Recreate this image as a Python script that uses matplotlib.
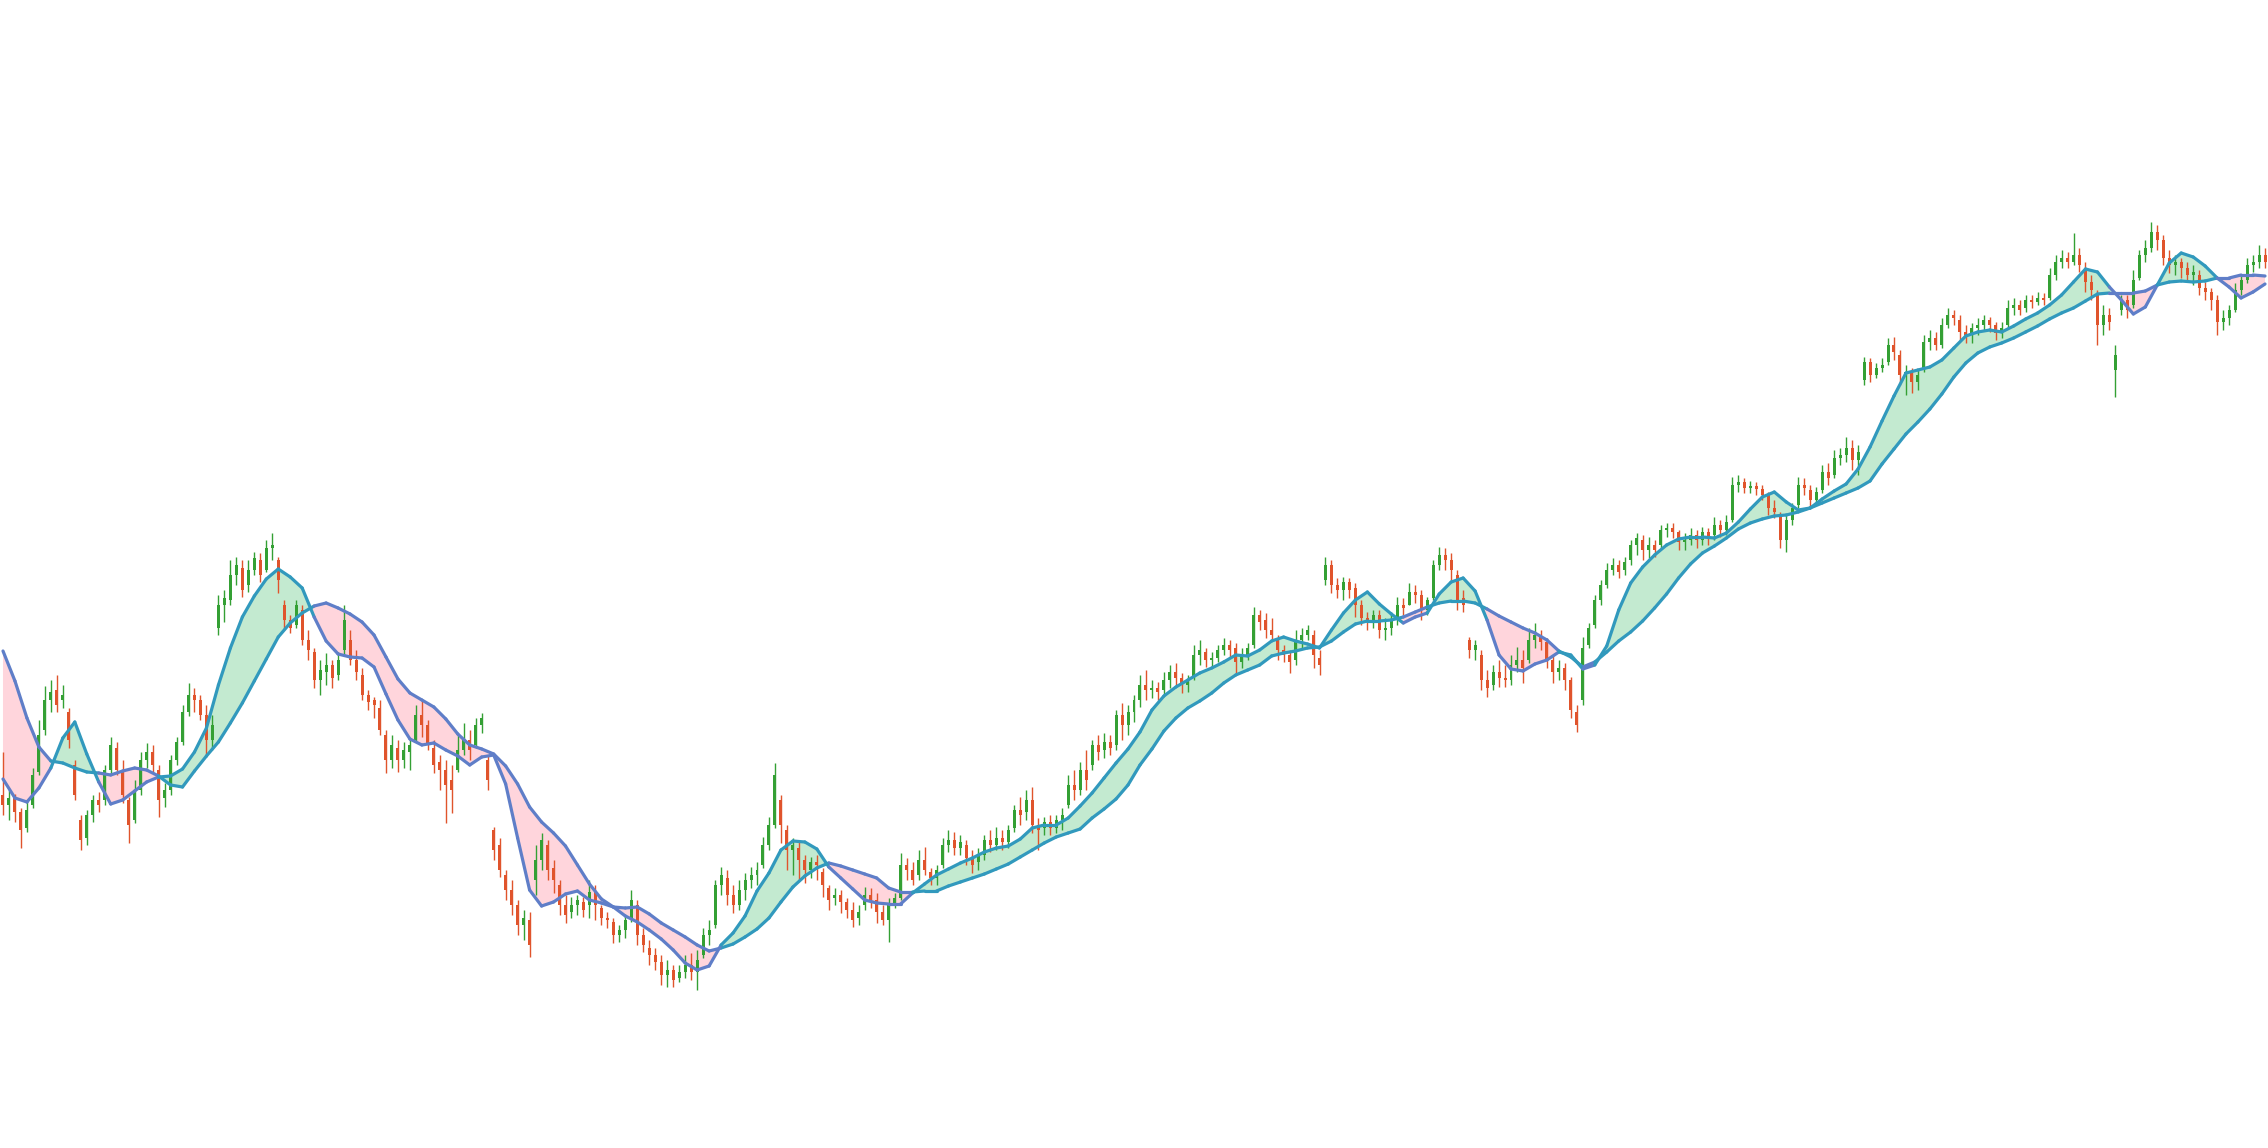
import numpy as np
import matplotlib
matplotlib.use("Agg")
import matplotlib.pyplot as plt
from matplotlib.collections import LineCollection

# ---------------- data (daily candles, arbitrary price units) ----------------
opens = [
205,195,202,188,172,195,228,270,300,310,
300,288,235,180,162,185,200,200,230,252,
230,200,180,210,240,248,230,202,210,240,
258,288,305,300,285,260,372,395,400,425,
432,415,430,440,430,452,440,395,380,375,
390,360,348,320,328,335,325,350,360,340,
325,305,300,292,265,240,252,240,248,260,
285,275,252,238,230,220,230,250,260,255,
275,240,170,155,125,110,95,75,80,120,
140,155,132,115,95,88,95,98,95,108,
92,82,78,65,70,82,95,65,52,45,
38,25,30,22,28,35,28,45,65,75,
115,122,105,95,110,120,125,135,155,175,
200,170,150,152,140,130,138,128,112,102,
105,98,90,82,95,105,100,88,80,95,
102,135,130,125,140,128,122,135,155,160,
152,155,142,138,145,160,155,162,158,172,
190,188,200,175,172,178,172,180,195,215,
210,230,235,255,250,258,255,285,275,288,
300,315,310,312,310,320,328,322,315,322,
345,348,340,342,350,355,352,338,345,355,
385,380,370,362,350,345,340,360,365,365,
342,420,435,415,410,418,412,395,382,378,
385,370,372,380,395,395,408,405,390,402,
435,445,440,425,402,360,350,345,320,315,
328,322,320,335,340,340,360,365,358,340,
328,332,320,288,300,355,375,400,415,430,
435,430,440,455,460,450,455,455,470,472,
468,458,460,465,460,468,465,475,470,480,
515,518,512,514,511,505,492,485,460,480,
495,515,510,500,510,528,525,542,545,552,
540,620,638,625,632,638,655,645,625,628,
618,630,658,662,655,675,685,680,668,665,
672,675,680,675,667,675,692,695,692,700,
698,702,702,725,738,742,738,745,732,718,
705,675,685,630,690,700,695,722,745,752,
768,760,742,735,738,732,725,725,712,708,
700,678,682,690,710,720,735,738,745,
]
highs = [
248,210,206,192,200,232,280,314,320,325,
315,292,240,185,190,205,208,235,263,258,
240,203,220,248,257,255,235,217,245,263,
295,317,312,305,295,285,405,410,440,443,
440,440,448,447,460,467,443,400,385,400,
395,370,352,340,347,340,348,395,370,350,
332,310,303,300,270,265,260,258,262,295,
300,280,260,245,240,235,265,277,270,282,
287,245,173,162,130,120,100,90,88,155,
167,160,140,120,105,103,105,103,120,115,
95,88,82,75,85,110,100,72,60,52,
45,40,35,35,45,47,50,72,80,120,
133,130,115,120,127,133,138,163,183,237,
205,175,162,160,145,143,145,132,115,112,
110,102,98,95,113,112,107,95,102,107,
147,142,138,150,153,132,135,162,170,168,
165,160,150,152,165,170,173,170,175,195,
203,210,213,182,183,185,185,192,225,230,
238,250,260,265,267,265,290,297,295,305,
325,330,320,318,328,335,337,327,325,355,
360,352,348,355,362,360,357,352,357,393,
390,387,382,365,355,350,370,372,375,370,
350,443,440,422,423,422,417,400,388,390,
390,382,388,403,402,417,415,410,403,440,
453,452,447,430,410,363,360,350,330,335,
340,335,345,353,350,372,377,370,362,345,
340,337,323,295,363,377,405,420,437,442,
440,443,460,467,465,463,460,475,477,477,
470,467,472,470,473,472,483,480,485,523,
525,522,519,518,515,508,500,488,485,497,
523,522,515,513,535,537,550,552,563,560,
555,643,642,637,642,662,663,650,635,632,
630,665,670,668,682,692,690,685,675,677,
682,685,683,678,678,700,702,700,705,705,
708,707,732,745,750,748,767,752,738,725,
710,695,692,655,705,705,730,750,760,778,
775,765,750,745,742,738,735,730,718,712,
705,690,695,717,725,742,745,755,752,
]
lows = [
185,180,178,152,168,192,225,265,288,288,
292,252,200,150,155,178,188,195,225,225,
197,157,177,205,232,228,183,193,205,235,
255,284,288,280,243,250,365,378,395,415,
403,408,425,418,428,440,407,370,367,372,
355,340,312,305,315,312,320,345,335,320,
300,290,282,265,227,232,228,232,230,258,
263,250,227,210,177,187,228,245,240,252,
267,210,140,123,100,85,65,60,43,105,
130,120,107,85,77,82,85,83,82,80,
75,72,57,58,62,78,55,48,35,30,
15,13,13,18,22,20,10,42,55,72,
105,95,87,90,100,112,115,132,150,172,
157,130,125,120,117,122,120,103,90,95,
87,82,73,75,90,92,77,75,58,92,
100,120,115,120,125,115,115,132,148,145,
145,135,127,130,140,148,150,150,152,168,
175,180,167,150,165,165,167,170,192,200,
205,210,230,240,242,245,250,260,265,278,
293,300,302,300,305,312,315,307,308,320,
335,333,332,338,345,342,327,332,340,352,
370,362,360,340,338,327,335,352,360,332,
325,415,407,402,400,402,383,375,370,372,
362,360,365,375,385,395,397,380,385,400,
430,430,420,390,388,342,340,310,303,310,
313,313,315,328,317,337,352,350,332,317,
320,310,282,268,295,352,372,395,412,425,
422,425,435,445,440,442,443,452,463,462,
450,450,455,452,455,455,460,463,465,478,
508,507,507,505,500,485,482,452,448,475,
492,505,493,495,507,515,522,535,538,530,
525,615,618,622,628,635,640,615,605,607,
610,628,650,650,652,672,675,660,657,657,
665,670,668,660,662,672,685,685,688,692,
695,695,700,720,732,732,735,728,708,700,
655,665,670,603,685,682,692,720,738,748,
750,735,727,725,722,718,715,705,700,690,
665,670,675,688,705,717,728,732,732,
]
closes = [
195,202,188,170,190,225,265,300,308,295,
305,260,205,160,185,200,195,230,255,230,
205,175,210,240,248,235,200,210,240,258,
288,305,300,285,260,275,395,402,425,435,
410,430,442,425,452,455,420,380,372,395,
360,350,320,330,335,322,340,380,340,328,
305,298,295,270,240,255,240,250,255,285,
275,255,235,230,215,210,250,262,250,275,
282,220,150,130,110,95,75,82,55,140,
160,130,120,95,85,95,100,90,108,95,
82,80,65,70,80,100,65,55,45,38,
25,30,20,28,35,28,40,65,70,115,
125,105,95,110,120,125,130,155,175,225,
175,150,155,140,130,138,135,115,100,105,
98,90,80,88,105,100,88,80,95,102,
135,130,120,140,130,122,130,155,160,152,
158,142,135,145,160,155,162,158,170,190,
185,200,175,170,178,172,180,185,215,210,
230,220,255,248,258,252,285,275,288,300,
315,310,312,308,320,328,322,315,320,345,
350,340,342,350,355,350,338,345,352,385,
378,370,365,350,345,338,360,365,370,345,
335,435,415,410,418,410,395,382,378,385,
370,372,380,395,392,408,405,390,400,435,
445,440,430,400,395,350,355,320,312,328,
322,320,335,340,332,360,365,358,340,328,
332,320,290,275,352,372,400,415,430,435,
428,438,455,462,450,455,450,470,472,468,
458,460,465,460,468,462,475,470,478,515,
518,512,514,511,505,492,488,460,480,492,
515,512,500,508,528,522,542,545,552,540,
548,638,625,632,635,655,648,625,628,618,
625,658,662,655,675,685,682,668,665,672,
675,680,675,667,672,692,695,690,700,698,
702,700,725,738,742,738,745,735,718,710,
675,685,678,645,700,690,720,745,752,768,
760,742,735,738,732,725,728,712,708,700,
678,682,690,710,720,735,738,745,738,
]

# moving averages, sampled every second session
ma_fast = [
221,202,198,212,232,262,278,246,218,196,
200,209,218,223,224,231,248,272,315,352,
383,404,421,431,423,412,383,359,346,343,
342,333,306,280,261,255,257,250,244,235,
243,245,216,162,110,94,98,106,109,100,
97,93,84,78,70,61,50,37,30,34,
55,67,84,109,127,150,159,158,151,133,
122,111,100,97,96,96,107,116,125,131,
137,142,148,152,154,161,172,175,175,182,
194,207,222,237,251,268,290,304,313,320,
327,332,338,345,344,350,359,363,359,356,
352,370,387,400,408,396,386,377,383,387,
406,418,422,409,380,345,331,329,336,340,
348,345,331,335,354,390,417,433,445,455,
461,463,463,462,467,478,491,503,508,498,
490,492,501,509,516,531,553,579,604,627,
630,633,640,652,664,668,670,668,674,681,
687,695,705,718,731,728,713,700,686,693,
715,737,747,743,734,722,713,702,708,716,
]
ma_slow = [
349,319,282,253,239,237,232,228,227,225,
229,232,230,224,215,213,229,244,258,277,
297,319,341,363,377,387,394,397,392,386,
378,365,343,321,307,300,293,281,266,255,
251,246,234,216,193,178,167,154,135,116,
101,93,92,93,86,77,70,63,55,49,
52,56,63,71,82,98,113,124,132,137,
134,130,126,122,112,108,108,109,109,114,
118,122,126,131,136,143,150,157,163,167,
171,182,191,201,215,235,251,269,282,292,
299,307,317,325,330,335,344,347,349,352,
353,359,368,376,379,379,380,383,388,393,
397,399,399,397,391,384,378,372,367,360,
349,343,333,338,348,359,368,379,392,406,
422,436,447,454,462,471,477,481,484,485,
488,492,497,502,507,512,519,536,551,566,
578,591,606,623,637,647,653,657,662,668,
674,681,687,692,699,706,707,707,707,709,
715,718,719,718,719,722,722,725,725,724,
]

# ---------------- styling ----------------
UP = "#34a034"
DOWN = "#e0542c"
FILL_UP = "#c3ead0"
FILL_DN = "#ffd5dc"
LINE_UP = "#3199bd"
LINE_DN = "#5f7ec8"

o = np.array(opens, float)
h = np.array(highs, float)
l = np.array(lows, float)
c = np.array(closes, float)
n = len(c)
idx = np.arange(n)

fast = np.array(ma_fast, float)
slow = np.array(ma_slow, float)
xm = np.arange(0, n, 2)[: len(fast)]

fig = plt.figure(figsize=(22.68, 11.48), dpi=100)
ax = fig.add_axes([0, 0, 1, 1])
ax.set_axis_off()

# fills between averages
ax.fill_between(xm, fast, slow, where=fast >= slow, interpolate=True,
                facecolor=FILL_UP, linewidth=0, zorder=1)
ax.fill_between(xm, fast, slow, where=fast < slow, interpolate=True,
                facecolor=FILL_DN, linewidth=0, zorder=1)

# candles
cols = np.where(c >= o, UP, DOWN)
ax.vlines(idx, l, h, colors=cols, linewidth=1.0, zorder=2)
body_lo = np.minimum(o, c)
body_h = np.maximum(np.abs(c - o), 1.0)
ax.bar(idx, body_h, bottom=body_lo, width=0.5, color=cols, linewidth=0, zorder=2)

# moving-average lines, coloured by regime
def ma_line(series):
    pts = np.column_stack([xm, series])
    segs = np.stack([pts[:-1], pts[1:]], axis=1)
    mid_f = (fast[:-1] + fast[1:]) / 2
    mid_s = (slow[:-1] + slow[1:]) / 2
    seg_cols = np.where(mid_f >= mid_s, LINE_UP, LINE_DN)
    lc = LineCollection(segs, colors=seg_cols, linewidths=2.3,
                        capstyle="round", joinstyle="round", zorder=3)
    ax.add_collection(lc)

ma_line(slow)
ma_line(fast)

ax.set_xlim(-0.5, n - 0.5)
ax.set_ylim(-148, 1000)

fig.savefig("out.png", dpi=100, facecolor="white")
